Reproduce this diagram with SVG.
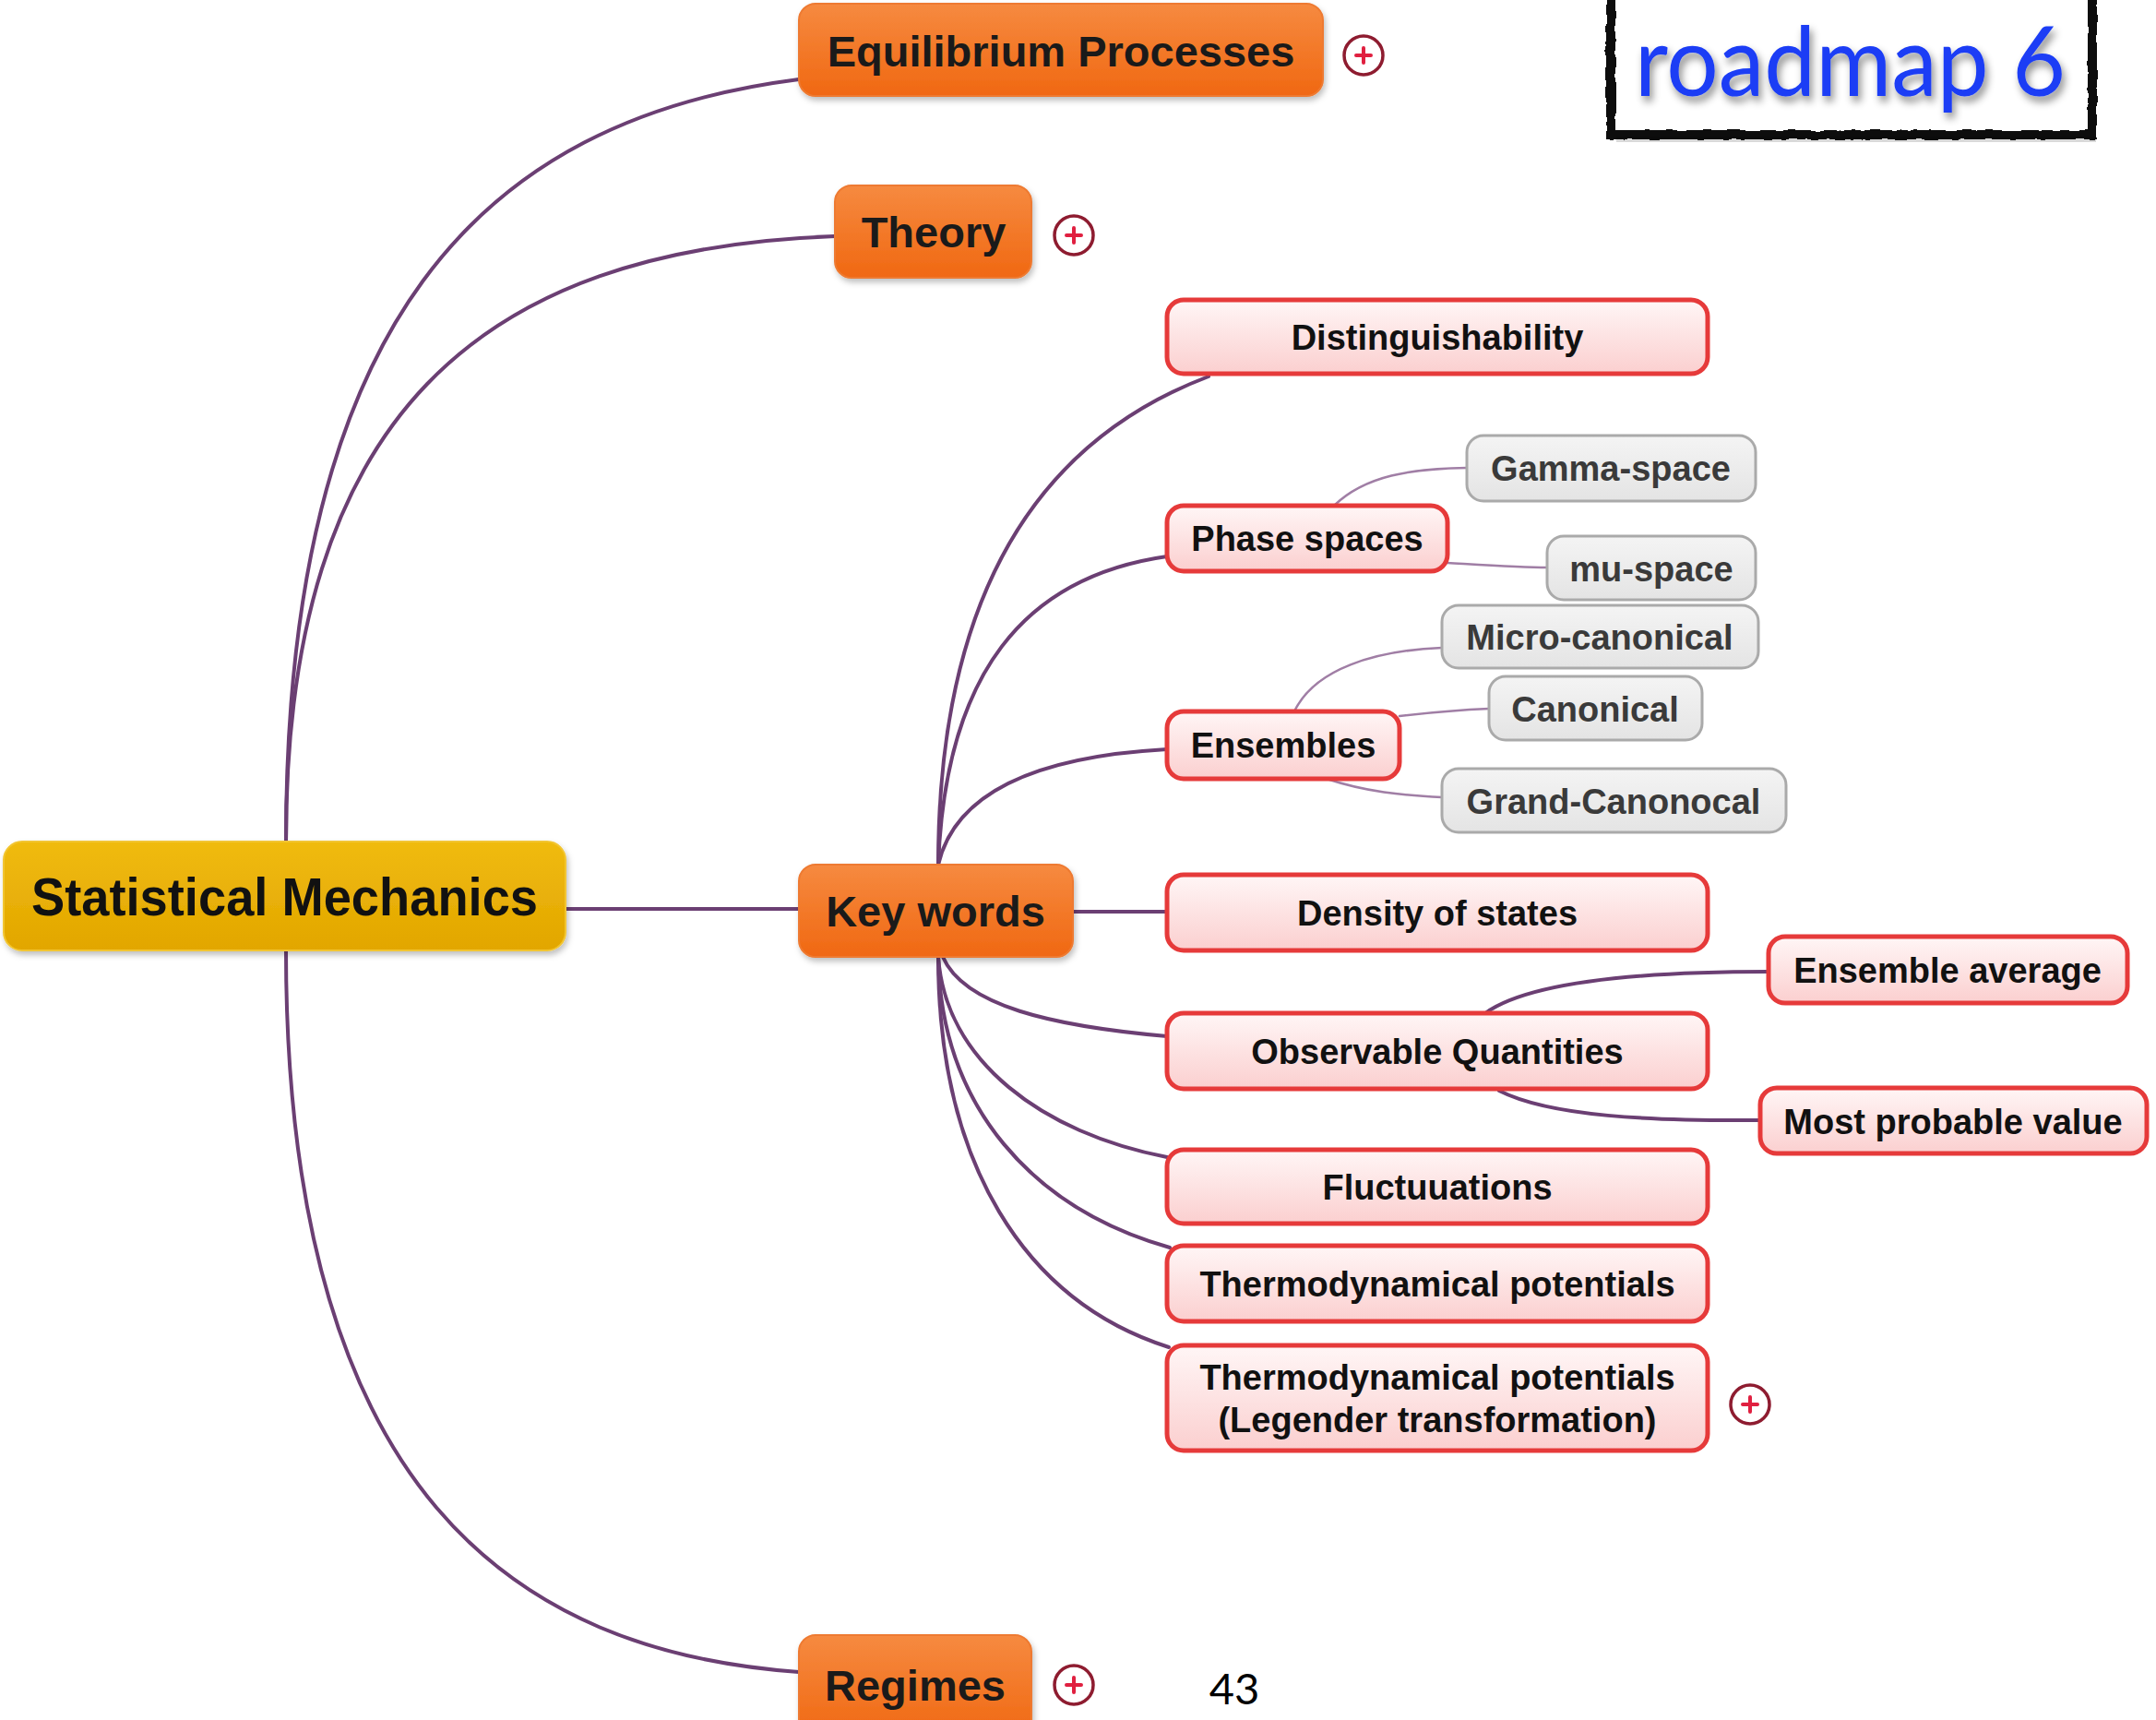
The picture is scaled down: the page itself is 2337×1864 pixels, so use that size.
<svg xmlns="http://www.w3.org/2000/svg" width="2337" height="1864" viewBox="0 0 2337 1864">
  <defs>
    <linearGradient id="gOrange" x1="0" y1="0" x2="0" y2="1">
      <stop offset="0" stop-color="#f68a40"/>
      <stop offset="1" stop-color="#f06812"/>
    </linearGradient>
    <linearGradient id="gGold" x1="0" y1="0" x2="0" y2="1">
      <stop offset="0" stop-color="#f0bb10"/>
      <stop offset="1" stop-color="#e2a600"/>
    </linearGradient>
    <linearGradient id="gPink" x1="0" y1="0" x2="0" y2="1">
      <stop offset="0" stop-color="#fff6f6"/>
      <stop offset="1" stop-color="#fbcfcf"/>
    </linearGradient>
    <linearGradient id="gGray" x1="0" y1="0" x2="0" y2="1">
      <stop offset="0" stop-color="#f4f4f4"/>
      <stop offset="1" stop-color="#e4e4e4"/>
    </linearGradient>
    <filter id="shadow" x="-10%" y="-20%" width="120%" height="150%">
      <feDropShadow dx="2" dy="4" stdDeviation="3" flood-color="#000" flood-opacity="0.25"/>
    </filter>
    <filter id="textShadow" x="-10%" y="-30%" width="120%" height="160%">
      <feDropShadow dx="3" dy="6" stdDeviation="4" flood-color="#000" flood-opacity="0.45"/>
    </filter>
    <filter id="rough" x="-5%" y="-20%" width="110%" height="140%">
      <feTurbulence type="fractalNoise" baseFrequency="0.08" numOctaves="2" seed="3" result="n"/>
      <feDisplacementMap in="SourceGraphic" in2="n" scale="5" xChannelSelector="R" yChannelSelector="G"/>
    </filter>
    <style>
      .conn { fill: none; stroke: #6b3f73; stroke-width: 4; stroke-linecap: round; }
      .conn-sub { fill: none; stroke: #a07ea5; stroke-width: 2.5; stroke-linecap: round; }
      .orange rect { fill: url(#gOrange); stroke: #ee7a30; stroke-width: 2; filter: url(#shadow); }
      .orange text { font-family: "Liberation Sans", Arial, sans-serif; font-weight: bold; font-size: 47px; fill: #1a1a1a; text-anchor: middle; }
      .topic rect { fill: url(#gPink); stroke: #e63a3a; stroke-width: 5; }
      .topic text { font-family: "Liberation Sans", Arial, sans-serif; font-weight: bold; font-size: 38px; fill: #111; text-anchor: middle; }
      .sub rect { fill: url(#gGray); stroke: #aaaaaa; stroke-width: 3; }
      .sub text { font-family: "Liberation Sans", Arial, sans-serif; font-weight: bold; font-size: 38px; fill: #3a3a3a; text-anchor: middle; }
      .plus circle { fill: #ffffff; stroke: #8e1c30; stroke-width: 3.5; }
      .plus path { stroke: #e02040; stroke-width: 4; stroke-linecap: round; }
    </style>
  </defs>

  <rect x="0" y="0" width="2337" height="1864" fill="#ffffff"/>

  <!-- connectors -->
  <g id="connectors">
    <path class="conn" d="M 310 912 C 310 350, 520 130, 866 86"/>
    <path class="conn" d="M 310 912 C 310 450, 520 270, 905 256"/>
    <path class="conn" d="M 613 985 L 866 985"/>
    <path class="conn" d="M 310 1030 C 310 1620, 560 1790, 866 1812"/>

    <path class="conn" d="M 1017 937 C 1017 650, 1120 480, 1310 408"/>
    <path class="conn" d="M 1017 937 C 1025 730, 1110 625, 1265 603"/>
    <path class="conn" d="M 1017 937 C 1035 860, 1120 820, 1265 812"/>
    <path class="conn" d="M 1163 988 L 1265 988"/>
    <path class="conn" d="M 1022 1037 C 1045 1090, 1140 1112, 1265 1123"/>
    <path class="conn" d="M 1017 1037 C 1025 1150, 1130 1228, 1265 1254"/>
    <path class="conn" d="M 1017 1037 C 1020 1200, 1120 1310, 1268 1352"/>
    <path class="conn" d="M 1017 1037 C 1017 1260, 1110 1410, 1267 1460"/>

    <path class="conn" d="M 1610 1098 C 1660 1062, 1790 1053, 1917 1053"/>
    <path class="conn" d="M 1625 1182 C 1680 1210, 1790 1215, 1908 1214"/>

    <path class="conn-sub" d="M 1446 548 C 1480 515, 1530 508, 1590 507"/>
    <path class="conn-sub" d="M 1569 610 C 1620 613, 1650 615, 1677 615"/>
    <path class="conn-sub" d="M 1403 771 C 1425 725, 1490 705, 1563 702"/>
    <path class="conn-sub" d="M 1517 776 C 1560 771, 1590 769, 1614 768"/>
    <path class="conn-sub" d="M 1438 844 C 1480 858, 1520 862, 1563 864"/>
  </g>

  <!-- central topic -->
  <g id="statistical-mechanics">
    <rect x="4" y="912" width="609" height="118" rx="20" fill="url(#gGold)" stroke="#f2c530" stroke-width="2" filter="url(#shadow)"/>
    <text x="34" y="992" font-family="Liberation Sans, Arial, sans-serif" font-weight="bold" font-size="58" fill="#111" textLength="549" lengthAdjust="spacingAndGlyphs">Statistical Mechanics</text>
  </g>

  <!-- main branches -->
  <g id="equilibrium-processes" class="orange">
    <rect x="866" y="4" width="568" height="100" rx="18"/>
    <text x="1150" y="72">Equilibrium Processes</text>
  </g>
  <g id="theory" class="orange">
    <rect x="905" y="201" width="213" height="100" rx="18"/>
    <text x="1012" y="268">Theory</text>
  </g>
  <g id="key-words" class="orange">
    <rect x="866" y="937" width="297" height="100" rx="18"/>
    <text x="1014" y="1004">Key words</text>
  </g>
  <g id="regimes" class="orange">
    <rect x="866" y="1772" width="252" height="110" rx="18"/>
    <text x="992" y="1843">Regimes</text>
  </g>

  <!-- collapsed-branch markers -->
  <g id="plus-equilibrium" class="plus">
    <circle cx="1478" cy="60" r="21"/>
    <path d="M 1478 52 V 68 M 1470 60 H 1486"/>
  </g>
  <g id="plus-theory" class="plus">
    <circle cx="1164" cy="255" r="21"/>
    <path d="M 1164 247 V 263 M 1156 255 H 1172"/>
  </g>
  <g id="plus-legendre" class="plus">
    <circle cx="1897" cy="1522" r="21"/>
    <path d="M 1897 1514 V 1530 M 1889 1522 H 1905"/>
  </g>
  <g id="plus-regimes" class="plus">
    <circle cx="1164" cy="1826" r="21"/>
    <path d="M 1164 1818 V 1834 M 1156 1826 H 1172"/>
  </g>

  <!-- key word topics -->
  <g id="distinguishability" class="topic">
    <rect x="1265" y="325" width="586" height="80" rx="18"/>
    <text x="1558" y="379">Distinguishability</text>
  </g>
  <g id="phase-spaces" class="topic">
    <rect x="1265" y="548" width="304" height="71" rx="18"/>
    <text x="1417" y="597">Phase spaces</text>
  </g>
  <g id="ensembles" class="topic">
    <rect x="1265" y="771" width="252" height="73" rx="18"/>
    <text x="1391" y="821">Ensembles</text>
  </g>
  <g id="density-of-states" class="topic">
    <rect x="1265" y="948" width="586" height="82" rx="18"/>
    <text x="1558" y="1003">Density of states</text>
  </g>
  <g id="observable-quantities" class="topic">
    <rect x="1265" y="1098" width="586" height="82" rx="18"/>
    <text x="1558" y="1153">Observable Quantities</text>
  </g>
  <g id="fluctuuations" class="topic">
    <rect x="1265" y="1246" width="586" height="80" rx="18"/>
    <text x="1558" y="1300">Fluctuuations</text>
  </g>
  <g id="thermodynamical-potentials" class="topic">
    <rect x="1265" y="1350" width="586" height="82" rx="18"/>
    <text x="1558" y="1405">Thermodynamical potentials</text>
  </g>
  <g id="thermodynamical-potentials-legendre" class="topic">
    <rect x="1265" y="1458" width="586" height="114" rx="18"/>
    <text x="1558" y="1506">Thermodynamical potentials</text>
    <text x="1558" y="1552">(Legender transformation)</text>
  </g>
  <g id="ensemble-average" class="topic">
    <rect x="1917" y="1015" width="389" height="72" rx="18"/>
    <text x="2111" y="1065">Ensemble average</text>
  </g>
  <g id="most-probable-value" class="topic">
    <rect x="1908" y="1179" width="419" height="71" rx="18"/>
    <text x="2117" y="1229">Most probable value</text>
  </g>

  <!-- sub topics -->
  <g id="gamma-space" class="sub">
    <rect x="1590" y="472" width="313" height="71" rx="18"/>
    <text x="1746" y="521">Gamma-space</text>
  </g>
  <g id="mu-space" class="sub">
    <rect x="1677" y="581" width="226" height="69" rx="18"/>
    <text x="1790" y="630">mu-space</text>
  </g>
  <g id="micro-canonical" class="sub">
    <rect x="1563" y="656" width="343" height="68" rx="18"/>
    <text x="1734" y="704">Micro-canonical</text>
  </g>
  <g id="canonical" class="sub">
    <rect x="1614" y="733" width="231" height="69" rx="18"/>
    <text x="1729" y="782">Canonical</text>
  </g>
  <g id="grand-canonocal" class="sub">
    <rect x="1563" y="833" width="373" height="69" rx="18"/>
    <text x="1749" y="882">Grand-Canonocal</text>
  </g>

  <!-- title badge -->
  <g id="roadmap-title">
    <rect x="1746" y="-12" width="522" height="158" fill="#ffffff" stroke="#111" stroke-width="10" filter="url(#rough)"/>
    <rect x="1752" y="148" width="520" height="6" fill="#000" opacity="0.15"/>
    <text x="1772" y="104" font-family="Lato, 'Open Sans', sans-serif" font-size="104" fill="#1a3cf5" textLength="467" lengthAdjust="spacingAndGlyphs" filter="url(#textShadow)">roadmap 6</text>
  </g>

  <!-- page number -->
  <text id="page-number" x="1338" y="1847" font-family="Lato, 'Open Sans', sans-serif" font-size="47" fill="#000" text-anchor="middle">43</text>
</svg>
